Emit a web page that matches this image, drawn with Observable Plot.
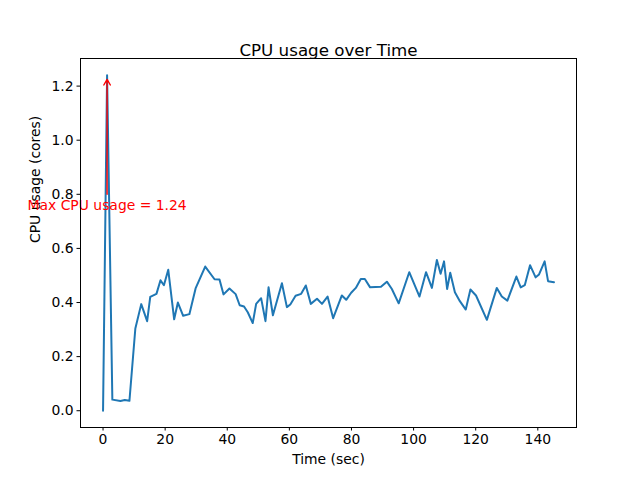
<!DOCTYPE html>
<html><head><meta charset="utf-8">
<script src="https://cdn.jsdelivr.net/npm/d3@7"></script>
<script src="https://cdn.jsdelivr.net/npm/@observablehq/plot@0.6"></script>
<style>body{margin:0;background:#fff;}</style>
</head><body><div id="chart"></div>
<script>
const times = [0,1.3,3.0,5.6,7.0,8.5,10.4,12.3,14.2,15.2,17.2,18.5,19.6,21.0,22.9,24.1,25.8,27.8,29.8,32.9,35.9,37.5,38.8,40.7,42.7,44.0,45.4,46.6,48.2,49.3,50.9,52.3,53.3,54.7,57.6,59.2,60.3,62.0,63.8,65.3,66.9,68.9,70.5,72.3,74.1,76.9,78.3,79.9,81.4,83.0,84.3,86.0,89.5,91.4,93.0,95.2,98.6,101.9,104.0,105.9,107.5,108.7,109.8,110.8,111.8,113.3,114.9,116.8,118.3,120.1,123.6,126.8,128.4,130.2,133.1,134.5,135.8,137.5,139.3,140.4,142.2,143.3,145.2];
const cpu = [0,1.24,0.041,0.036,0.04,0.037,0.304,0.394,0.331,0.421,0.432,0.482,0.464,0.521,0.338,0.4,0.351,0.357,0.452,0.533,0.486,0.485,0.43,0.452,0.431,0.39,0.385,0.364,0.324,0.395,0.416,0.331,0.456,0.353,0.471,0.383,0.393,0.425,0.432,0.463,0.395,0.414,0.395,0.422,0.342,0.426,0.41,0.436,0.454,0.487,0.487,0.456,0.458,0.477,0.45,0.397,0.512,0.422,0.512,0.454,0.557,0.506,0.552,0.45,0.51,0.438,0.405,0.374,0.448,0.426,0.336,0.454,0.422,0.407,0.496,0.456,0.464,0.538,0.493,0.504,0.552,0.479,0.475];
const xTicks = [0,20,40,60,80,100,120,140];
const yTicks = [0,0.2,0.4,0.6,0.8,1.0,1.2];
const title = "CPU usage over Time";
const xLabel = "Time (sec)";
const yLabel = "CPU usage (cores)";
const annText = "Max CPU usage = 1.24";
const annArrow = [{x1: 1.3, y1: 0.80, x2: 1.3, y2: 1.225}];
const annLabel = [{x: 1.3, y: 0.758, text: annText}];

const data = times.map((t, i) => ({t, v: cpu[i]}));
const fs = 13.9;

const chart = Plot.plot({
  width: 640, height: 480,
  marginLeft: 80, marginRight: 64, marginTop: 58, marginBottom: 53,
  style: {fontFamily: "DejaVu Sans", fontSize: fs + "px", color: "black", background: "white"},
  x: {domain: [-7.26, 152.46], ticks: xTicks},
  y: {domain: [-0.062, 1.302], ticks: yTicks, tickFormat: d3.format(".1f")},
  marks: [
    Plot.axisX({ticks: xTicks, tickSize: 3.5, tickPadding: 3.5, label: null, fontSize: fs}),
    Plot.axisY({ticks: yTicks, tickSize: 3.5, tickPadding: 3.5, label: null, tickFormat: d3.format(".1f"), fontSize: fs}),
    Plot.text([yLabel], {frameAnchor: "left", dx: -45, rotate: -90, fontSize: fs, fill: "black"}),
    Plot.line(data, {x: "t", y: "v", stroke: "#1f77b4", strokeWidth: 2}),
    Plot.arrow(annArrow, {x1: "x1", y1: "y1", x2: "x2", y2: "y2", stroke: "red", strokeWidth: 1.4, headLength: 7, insetEnd: 0, insetStart: 0}),
    Plot.text(annLabel, {x: "x", y: "y", text: "text", fill: "red", fontSize: fs, textAnchor: "middle"}),
    Plot.frame({stroke: "black", strokeWidth: 1}),
    Plot.text([title], {frameAnchor: "top", dy: -14, fontSize: 16.7, fill: "black"}),
    Plot.text([xLabel], {frameAnchor: "bottom", dy: 36, fontSize: fs, fill: "black"})
  ]
});
document.getElementById("chart").append(chart);
</script>
</body></html>
